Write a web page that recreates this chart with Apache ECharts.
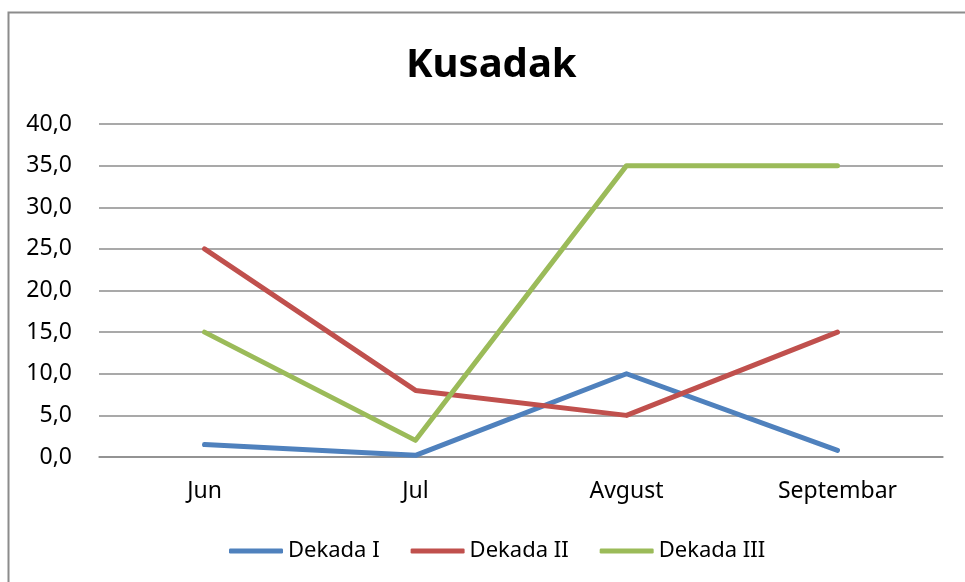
<!DOCTYPE html>
<html>
<head>
<meta charset="utf-8">
<script src="https://cdn.jsdelivr.net/npm/echarts@6/dist/echarts.min.js"></script>
<style>
  html, body { margin: 0; padding: 0; background: #fff; }
  #chart { width: 965px; height: 582px; }
</style>
</head>
<body>
<div id="chart"></div>
<script>
// podaci
var months = ['Jun', 'Jul', 'Avgust', 'Septembar'];
var dekadaI = [1.5, 0.2, 10, 0.8];
var dekadaII = [25, 8, 5, 15];
var dekadaIII = [15, 2, 35, 35];

var fontFam = '"Noto Sans", "Open Sans", sans-serif';
var gridColor = '#8c8c8c';

function lineSeries(name, data, color) {
    return {
        name: name,
        type: 'line',
        data: data,
        symbol: 'none',
        color: color,
        lineStyle: { width: 5, color: color, cap: 'round', join: 'round' }
    };
}

var chart = echarts.init(document.getElementById('chart'));
chart.setOption({
    animation: false,
    backgroundColor: '#fff',
    title: {
        text: 'Kusadak',
        left: 401,
        top: 41,
        textStyle: { fontFamily: fontFam, fontWeight: 'bold', fontSize: 40, color: '#000' }
    },
    graphic: [{
        type: 'rect',
        shape: { x: 8.5, y: 12.5, width: 1000, height: 1000 },
        style: { fill: 'none', stroke: gridColor, lineWidth: 2 },
        silent: true
    }],
    grid: { left: 99, right: 22, top: 124, bottom: 125 },
    legend: {
        left: 224,
        top: 535,
        itemWidth: 54,
        itemHeight: 5,
        itemGap: 31,
        icon: 'roundRect',
        textStyle: { fontFamily: fontFam, fontSize: 22, color: '#000' },
        data: ['Dekada I', 'Dekada II', 'Dekada III']
    },
    xAxis: {
        type: 'category',
        data: months,
        boundaryGap: true,
        axisLine: { lineStyle: { color: gridColor, width: 1.5 } },
        axisTick: { show: false },
        axisLabel: { margin: 23, fontFamily: fontFam, fontSize: 23, color: '#000' }
    },
    yAxis: {
        type: 'value',
        min: 0,
        max: 40,
        interval: 5,
        axisLine: { show: false },
        axisTick: { show: false },
        splitLine: { lineStyle: { color: gridColor, width: 1.5 } },
        axisLabel: {
            margin: 27,
            fontFamily: fontFam,
            fontSize: 23,
            color: '#000',
            formatter: function (v) { return v.toFixed(1).replace('.', ','); }
        }
    },
    series: [
        lineSeries('Dekada I', dekadaI, '#4F81BD'),
        lineSeries('Dekada II', dekadaII, '#C0504D'),
        lineSeries('Dekada III', dekadaIII, '#9BBB59')
    ]
});
</script>
</body>
</html>
